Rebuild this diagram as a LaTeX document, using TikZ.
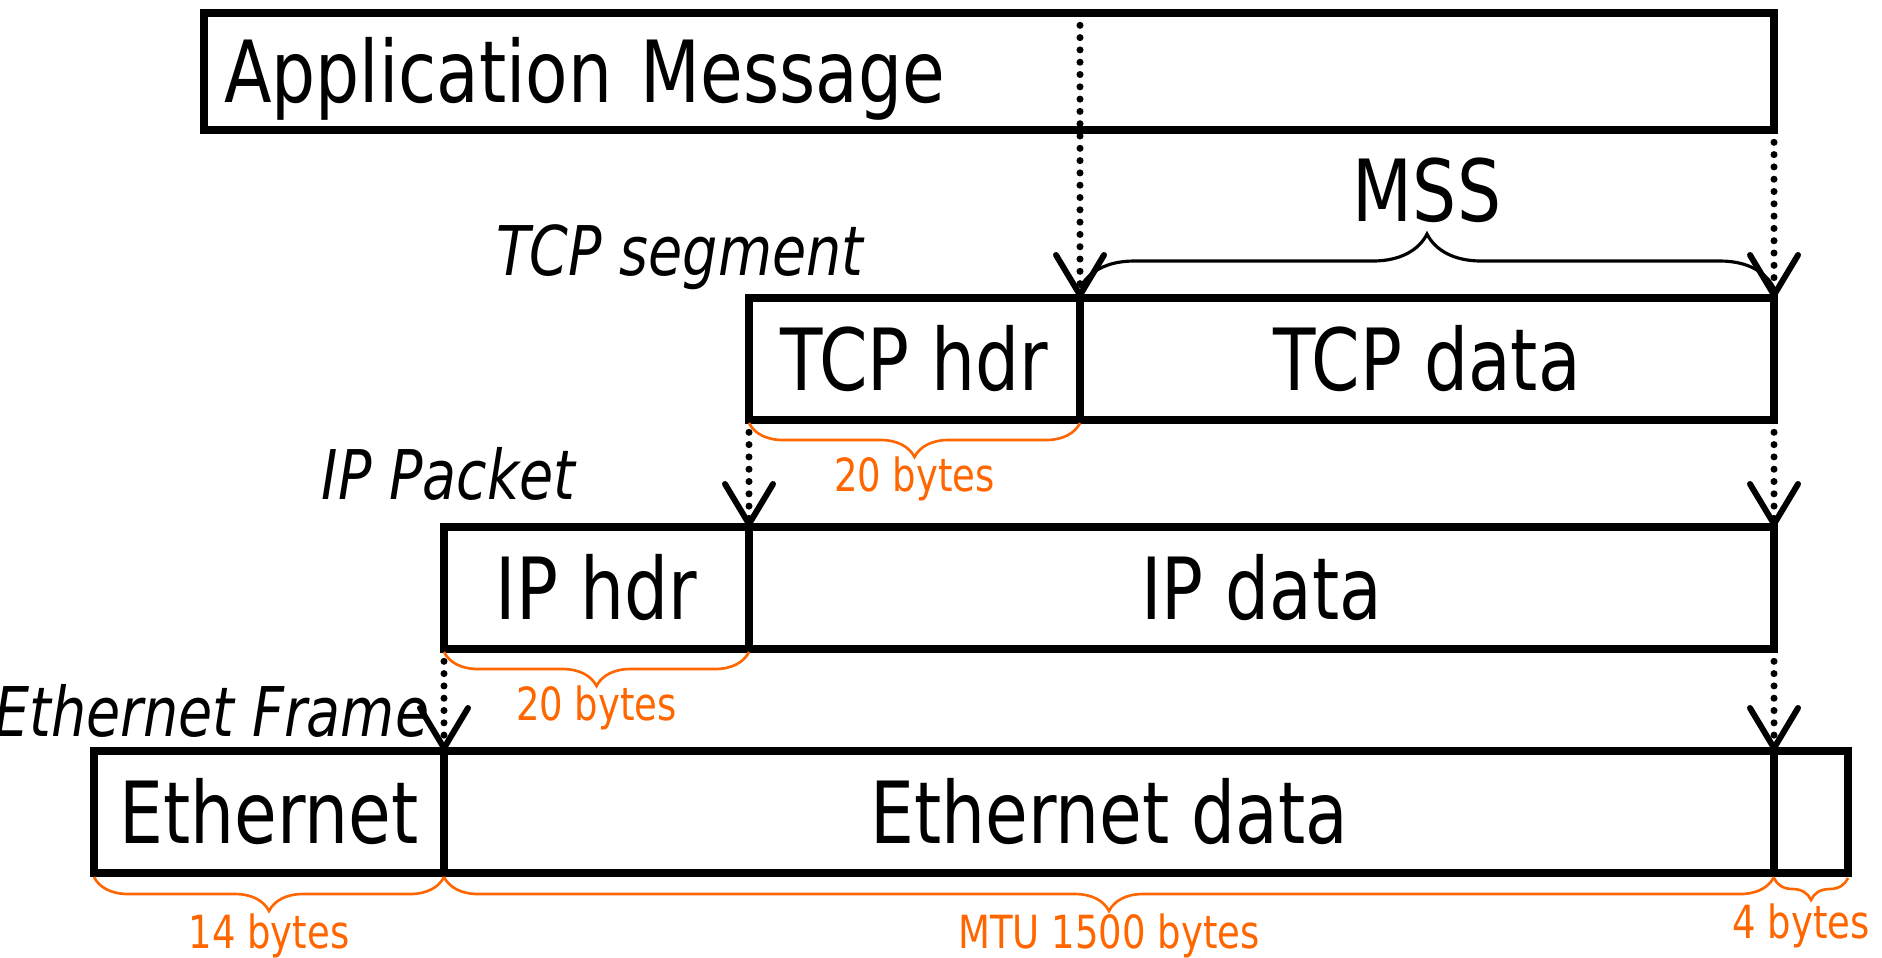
\documentclass[tikz,border=0pt]{standalone}
\usepackage{fontspec}
\setmainfont{DejaVu Sans}[FakeStretch=0.81]
\usetikzlibrary{positioning, arrows.meta, decorations.pathreplacing}
\definecolor{byteorange}{RGB}{255, 102, 0}

\tikzset{
  pdu/.style={draw, line width=2.4pt, outer sep=0pt, inner sep=0pt, minimum height=1.22cm,
    font=\fontsize{24.4}{29}\selectfont, text height=17.8pt, text depth=0pt},
  layername/.style={anchor=east, inner sep=0pt, font=\fontsize{19.5}{23}\selectfont\itshape,
    text height=14.2pt, text depth=0pt},
  encap/.style={line width=2pt, line cap=round, dash pattern=on 0pt off 3.5pt,
    -{Straight Barb[length=0.40cm, width=0.48cm, line width=1.7pt, round]}},
  sizebrace/.style={draw=byteorange, line width=0.75pt, decorate,
    decoration={brace, amplitude=0.34cm}},
  bytes/.style={text=byteorange, inner sep=0pt, font=\fontsize{13}{16}\selectfont,
    text height=9.5pt, text depth=0pt},
}

\begin{document}
\begin{tikzpicture}
  \useasboundingbox (0,0) rectangle (18.82,-9.57);

  % application message
  \node[pdu, minimum width=15.70cm, minimum height=1.17cm, text width=15.30cm, align=left, anchor=west] (app) at (2.04,-0.715) {Application Message};

  % TCP segment
  \node[pdu, minimum width=3.31cm, anchor=west] (tcphdr) at (7.49,-3.59) {TCP hdr};
  \node[pdu, minimum width=6.94cm, right=0pt of tcphdr] (tcpdata) {TCP data};
  \node[layername] (tcpname) at (8.64,-2.51) {TCP segment};

  % IP packet
  \node[pdu, minimum width=3.05cm, anchor=west] (iphdr) at (4.44,-5.88) {IP hdr};
  \node[pdu, minimum width=10.25cm, right=0pt of iphdr] (ipdata) {IP data};
  \node[layername] (ipname) at (5.76,-4.75) {IP Packet};

  % Ethernet frame
  \node[pdu, minimum width=3.50cm, anchor=west] (ethhdr) at (0.94,-8.12) {Ethernet};
  \node[pdu, minimum width=13.30cm, right=0pt of ethhdr] (ethdata) {Ethernet data};
  \node[pdu, minimum width=0.74cm, right=0pt of ethdata] (ethfcs) {};
  \node[layername] (ethname) at (4.30,-7.12) {Ethernet Frame};

  % encapsulation
  \draw[encap] (app.north -| tcphdr.east) -- (tcphdr.north east);
  \draw[encap] (app.south east) -- (tcpdata.north east);
  \draw[encap] (tcphdr.south west) -- (iphdr.north east);
  \draw[encap] (tcpdata.south east) -- (ipdata.north east);
  \draw[encap] (iphdr.south west) -- (ethhdr.north east);
  \draw[encap] (ipdata.south east) -- (ethdata.north east);

  % MSS
  \draw[decorate, decoration={brace, amplitude=0.54cm}, line width=0.9pt]
    ([yshift=0.1cm]tcpdata.north west) -- ([yshift=0.1cm]tcpdata.north east)
    node[midway, above=0.65cm, inner sep=0pt, font=\fontsize{24.4}{29}\selectfont, text height=17.8pt, text depth=0pt] (mss) {MSS};

  % header and trailer sizes
  \draw[sizebrace] ([yshift=-0.03cm]tcphdr.south east) -- ([yshift=-0.03cm]tcphdr.south west)
    node[bytes, midway, below=0.34cm] (tcphdrsize) {20 bytes};
  \draw[sizebrace] ([yshift=-0.03cm]iphdr.south east) -- ([yshift=-0.03cm]iphdr.south west)
    node[bytes, midway, below=0.34cm] (iphdrsize) {20 bytes};
  \draw[sizebrace] ([yshift=-0.04cm]ethhdr.south east) -- ([yshift=-0.04cm]ethhdr.south west)
    node[bytes, midway, below=0.37cm] (ethhdrsize) {14 bytes};
  \draw[sizebrace] ([yshift=-0.04cm]ethdata.south east) -- ([yshift=-0.04cm]ethdata.south west)
    node[bytes, midway, below=0.37cm] (mtusize) {MTU 1500 bytes};
  \draw[sizebrace, decoration={amplitude=0.22cm}] ([yshift=-0.05cm]ethfcs.south east) -- ([yshift=-0.05cm]ethfcs.south west)
    node[bytes, midway, below=0.26cm, xshift=-0.1cm] (fcssize) {4 bytes};
\end{tikzpicture}
\end{document}
